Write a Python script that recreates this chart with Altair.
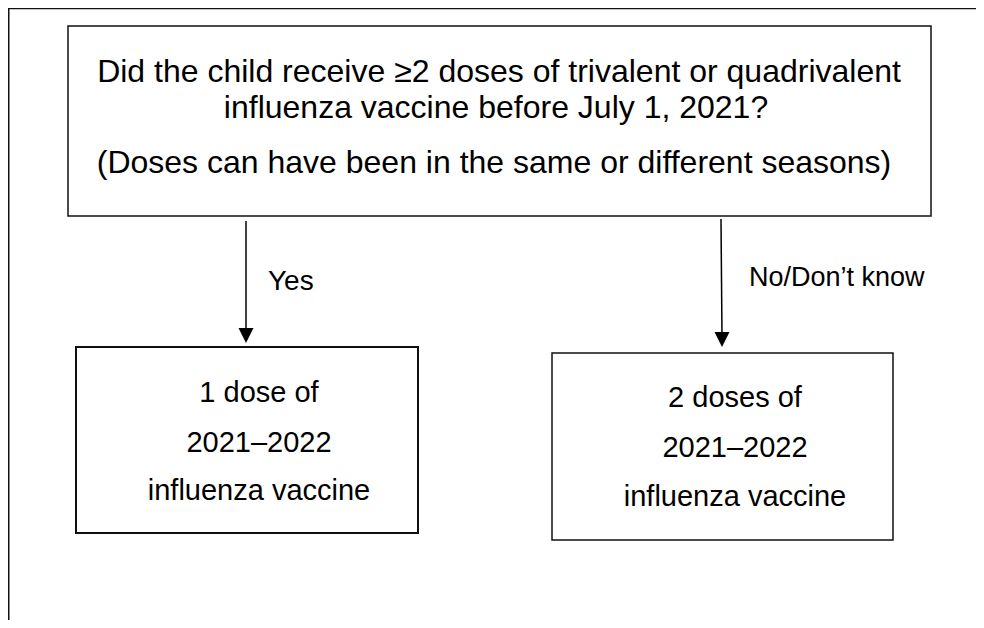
import altair as alt
import pandas as pd

# ---- flowchart content (page pixel coordinates) ----
box_names = ["frame", "question", "one_dose", "two_doses"]
box_x1 = [8.75, 68, 76, 552]
box_x2 = [1100, 931, 418, 893]
box_y1 = [8.6, 26, 347, 353]
box_y2 = [800, 216, 533, 540]
box_sw = [1.5, 1.5, 2, 1.5]

text_lines = [
    "Did the child receive \u22652 doses of trivalent or quadrivalent",
    "influenza vaccine before July 1, 2021?",
    "(Doses can have been in the same or different seasons)",
    "1 dose of",
    "2021\u20132022",
    "influenza vaccine",
    "2 doses of",
    "2021\u20132022",
    "influenza vaccine",
]
text_x = [499, 496, 494, 259, 259, 259, 735, 735, 735]
text_y = [82, 118, 173, 402, 452, 500, 407, 457, 506]
text_size = [32, 32, 32, 29, 29, 29, 29, 29, 29]

edge_labels = ["Yes", "No/Don\u2019t know"]
edge_label_x = [268, 749]
edge_label_y = [290, 286]
edge_label_size = [28, 27]

arrow_x1 = [246, 721]
arrow_y1 = [221, 219]
arrow_x2 = [246, 722]
arrow_y2 = [334, 338]
arrow_tip_x = [246, 722]
arrow_tip_y = [335.5, 339.5]

FONT = "Liberation Sans"

# page pixel p -> chart pixel p - 8 (page margin)
xs = alt.Scale(domain=[0, 984], range=[-8, 976], nice=False, zero=False)
ys = alt.Scale(domain=[0, 628], range=[-8, 620], nice=False, zero=False)

boxes = pd.DataFrame({"name": box_names, "x1": box_x1, "x2": box_x2,
                      "y1": box_y1, "y2": box_y2, "sw": box_sw})
texts = pd.DataFrame({"t": text_lines, "x": text_x, "y": text_y, "s": text_size})
elabels = pd.DataFrame({"t": edge_labels, "x": edge_label_x, "y": edge_label_y,
                        "s": edge_label_size})
arrows = pd.DataFrame({"x1": arrow_x1, "y1": arrow_y1, "x2": arrow_x2, "y2": arrow_y2})
tips = pd.DataFrame({"x": arrow_tip_x, "y": arrow_tip_y})

rects = alt.Chart(boxes).mark_rect(fill="white", stroke="#111").encode(
    x=alt.X("x1:Q", scale=xs, axis=None),
    x2="x2:Q",
    y=alt.Y("y1:Q", scale=ys, axis=None),
    y2="y2:Q",
    strokeWidth=alt.StrokeWidth("sw:Q", scale=None, legend=None),
)

lines = alt.Chart(arrows).mark_rule(color="black", strokeWidth=1.5).encode(
    x=alt.X("x1:Q", scale=xs, axis=None),
    x2="x2:Q",
    y=alt.Y("y1:Q", scale=ys, axis=None),
    y2="y2:Q",
)

heads = alt.Chart(tips).mark_point(
    shape="M-1,-1L1,-1L0,1Z", filled=True, color="black", size=225, opacity=1
).encode(
    x=alt.X("x:Q", scale=xs, axis=None),
    y=alt.Y("y:Q", scale=ys, axis=None),
)

txt = alt.Chart(texts).mark_text(
    align="center", baseline="alphabetic", font=FONT, color="black"
).encode(
    x=alt.X("x:Q", scale=xs, axis=None),
    y=alt.Y("y:Q", scale=ys, axis=None),
    text="t:N",
    size=alt.Size("s:Q", scale=None, legend=None),
)

etxt = alt.Chart(elabels).mark_text(
    align="left", baseline="alphabetic", font=FONT, color="black"
).encode(
    x=alt.X("x:Q", scale=xs, axis=None),
    y=alt.Y("y:Q", scale=ys, axis=None),
    text="t:N",
    size=alt.Size("s:Q", scale=None, legend=None),
)

chart = alt.layer(rects, lines, heads, txt, etxt).properties(
    width=968, height=612,
    autosize=alt.AutoSizeParams(type="none"),
    padding=0,
).configure_view(stroke=None).configure(background="white")

chart.save("out.html", embed_options={"renderer": "svg", "actions": False})
